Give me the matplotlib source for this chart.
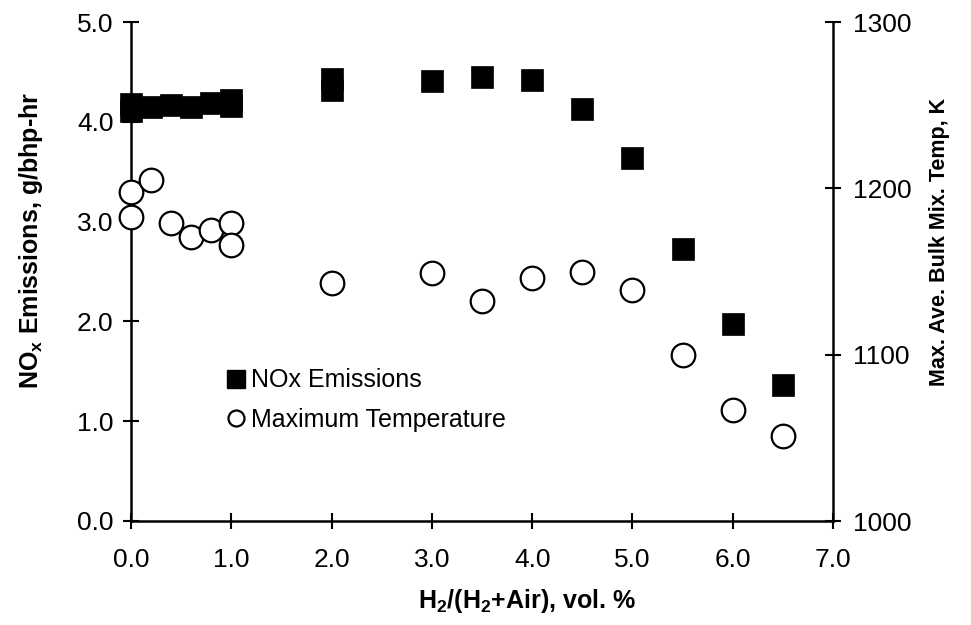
import matplotlib
matplotlib.use("Agg")
import matplotlib.pyplot as plt
from matplotlib.lines import Line2D

plt.rcParams['font.family'] = ['Liberation Sans', 'DejaVu Sans']
plt.rcParams['mathtext.fontset'] = 'custom'
plt.rcParams['mathtext.rm'] = 'Liberation Sans'
plt.rcParams['mathtext.bf'] = 'Liberation Sans:bold'
plt.rcParams['mathtext.default'] = 'bf'

# Data
h2_nox = [0, 0, 0.2, 0.4, 0.6, 0.8, 1.0, 1.0, 2.0, 2.0, 3.0, 3.5, 4.0, 4.5, 5.0, 5.5, 6.0, 6.5]
nox = [4.18, 4.11, 4.15, 4.17, 4.15, 4.19, 4.22, 4.16, 4.43, 4.32, 4.41, 4.45, 4.42, 4.13, 3.64, 2.73, 1.97, 1.36]
h2_temp = [0, 0, 0.2, 0.4, 0.6, 0.8, 1.0, 1.0, 2.0, 3.0, 3.5, 4.0, 4.5, 5.0, 5.5, 6.0, 6.5]
temp = [1198, 1183, 1205, 1179, 1171, 1175, 1179, 1166, 1143, 1149, 1132, 1146, 1150, 1139, 1100, 1067, 1051]
x_ticks = [0, 1, 2, 3, 4, 5, 6, 7]
y_ticks = [0, 1, 2, 3, 4, 5]
t_ticks = [1000, 1100, 1200, 1300]

FS = 18
TFS = 19

fig = plt.figure(figsize=(9.71, 6.25), dpi=100)
ax = fig.add_axes([131/971, 1-521/625, (833-131)/971, (521-22)/625])
ax2 = ax.twinx()

ax.plot(h2_nox, nox, ls='none', marker='s', ms=16.5, mfc='black', mec='black', mew=0.5, clip_on=False, zorder=3)
ax2.plot(h2_temp, temp, ls='none', marker='o', ms=17, mfc='white', mec='black', mew=1.6, clip_on=False, zorder=3)

ax.set_xlim(0, 7)
ax.set_ylim(0, 5)
ax2.set_ylim(1000, 1300)
ax.set_xticks(x_ticks)
ax.set_xticklabels([f"{v:.1f}" for v in x_ticks])
ax.set_yticks(y_ticks)
ax.set_yticklabels([f"{v:.1f}" for v in y_ticks])
ax2.set_yticks(t_ticks)
ax2.set_yticklabels([str(v) for v in t_ticks])

for a in (ax, ax2):
    a.spines['top'].set_visible(False)
    for s in a.spines.values():
        s.set_linewidth(1.8)
    a.tick_params(direction='inout', length=11, width=1.5, labelsize=TFS)
ax.spines['right'].set_visible(False)
ax2.spines['left'].set_visible(False)
ax2.spines['bottom'].set_visible(False)
ax.tick_params(axis='y', pad=7)
ax.tick_params(axis='x', pad=14)
ax2.tick_params(axis='y', pad=9)

ax.set_xlabel(r'H$_2$/(H$_2$+Air), vol. %', fontsize=FS, fontweight='bold')
ax.set_ylabel(r'NO$_x$ Emissions, g/bhp-hr', fontsize=FS, fontweight='bold')
ax2.set_ylabel('Max. Ave. Bulk Mix. Temp, K', fontsize=15.5, fontweight='bold')
ax.xaxis.set_label_coords(0.564, -0.133)
ax.yaxis.set_label_coords(-0.122, 0.563)
ax2.yaxis.set_label_coords(1.137, 0.559)

handles = [Line2D([], [], ls='none', marker='s', ms=12.5, mfc='black', mec='black'),
           Line2D([], [], ls='none', marker='o', ms=11.5, mfc='white', mec='black', mew=1.6)]
ax2.legend(handles, ['NOx Emissions', 'Maximum Temperature'], loc='upper left',
           bbox_to_anchor=(0.135, 0.306), frameon=False, fontsize=FS,
           handlelength=0.8, handletextpad=0.2, labelspacing=0.62, borderaxespad=0, borderpad=0)

fig.savefig('out.png', dpi=100)
